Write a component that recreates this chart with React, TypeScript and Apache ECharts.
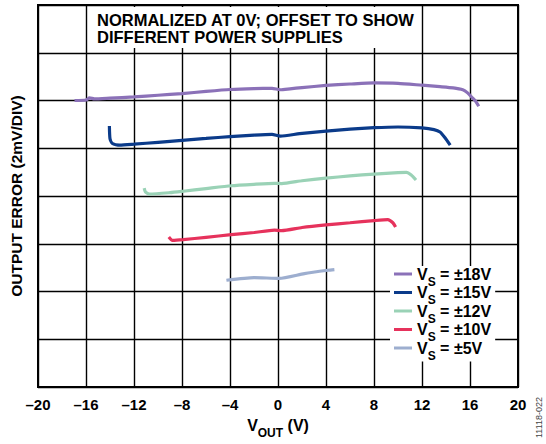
import { useEffect, useRef } from 'react';
import * as echarts from 'echarts';

// Supply voltages (legend labels) in legend order
const supplyNames: string[] = ['±18V', '±15V', '±12V', '±10V', '±5V'];
const supplyColors: string[] = ['#8B71B8', '#0B3B8A', '#9AD2B6', '#E6325C', '#9DAECF'];

// X axis ticks (V)
const xMin = -20;
const xMax = 20;
const xStep = 4;
// Y axis: 2 mV per division, 8 divisions
const yMin = 0;
const yMax = 16;
const yStep = 2;

// Curves: [VOUT (V), output error (mV, offset)]
const vs18: [number, number][] = [
  [-16.96, 12.0], [-16.0, 12.02], [-15.7, 12.11], [-15.3, 12.07], [-14, 12.1], [-12, 12.15], [-10, 12.22],
  [-8, 12.29], [-6, 12.38], [-4, 12.46], [-2, 12.5], [-0.5, 12.51], [0.2, 12.45], [1, 12.49], [2, 12.54],
  [4, 12.63], [6, 12.69], [8, 12.74], [10, 12.72], [12, 12.64], [13.5, 12.58], [14.6, 12.53], [15.4, 12.45],
  [15.8, 12.32], [16.2, 12.11], [16.5, 11.95], [16.73, 11.76],
];
const vs15: [number, number][] = [
  [-14.05, 10.93], [-14.0, 10.4], [-13.8, 10.2], [-13.2, 10.13], [-12, 10.17], [-10, 10.25], [-8, 10.33],
  [-6, 10.41], [-4, 10.49], [-2, 10.55], [-0.5, 10.58], [0.2, 10.51], [1.8, 10.61], [4, 10.72], [6, 10.8],
  [8, 10.86], [10, 10.89], [12, 10.85], [13, 10.78], [13.5, 10.68], [13.9, 10.45], [14.35, 10.13],
];
const vs12: [number, number][] = [
  [-11.15, 8.33], [-11.05, 8.17], [-10.7, 8.08], [-9, 8.14], [-7.9, 8.2], [-6, 8.31], [-3.9, 8.43],
  [-2, 8.49], [-0.3, 8.53], [0.3, 8.52], [2, 8.64], [4, 8.75], [6, 8.84], [8, 8.92], [10, 8.98],
  [10.7, 8.99], [11.1, 8.88], [11.5, 8.67],
];
const vs10: [number, number][] = [
  [-9.1, 6.28], [-8.8, 6.14], [-7.9, 6.17], [-6, 6.27], [-3.9, 6.38], [-2, 6.47], [-0.3, 6.57],
  [0.3, 6.55], [2, 6.68], [4, 6.79], [6, 6.88], [8, 6.97], [9.15, 7.01], [9.57, 6.88], [9.8, 6.7],
];
const vs5: [number, number][] = [
  [-4.3, 4.47], [-2, 4.58], [0.1, 4.55], [2.2, 4.75], [4.15, 4.89], [4.7, 4.92],
];
const seriesData = [vs18, vs15, vs12, vs10, vs5];

const FONT = '"Liberation Sans", Arial, Helvetica, sans-serif';

const subRich = {
  v: { fontSize: 16, fontWeight: 'bold', color: '#000', fontFamily: FONT, lineHeight: 27 },
  s: { fontSize: 12, fontWeight: 'bold', color: '#000', fontFamily: FONT, lineHeight: 6, verticalAlign: 'bottom' },
};

export default function App() {
  const ref = useRef<HTMLDivElement>(null);
  useEffect(() => {
    if (!ref.current) return;
    const chart = echarts.init(ref.current, undefined, { renderer: 'svg' });
    chart.setOption({
      animation: false,
      backgroundColor: '#fff',
      textStyle: { fontFamily: FONT },
      grid: {
        left: 38, top: 5, width: 480, height: 384,
        show: true, borderColor: '#000', borderWidth: 2, backgroundColor: 'transparent',
      },
      xAxis: {
        type: 'value', min: xMin, max: xMax, interval: xStep,
        axisLine: { show: false }, axisTick: { show: false },
        splitLine: { show: true, lineStyle: { color: '#000', width: 1.4 } },
        axisLabel: {
          margin: 10, color: '#000', fontWeight: 'bold', fontSize: 15, fontFamily: FONT,
          formatter: (v: number) => (v < 0 ? '\u2013' + Math.abs(v) : String(v)),
        },
        name: '{v|V}{s|OUT}{v| (V)}',
        nameLocation: 'middle', nameGap: 25,
        nameTextStyle: { rich: subRich },
      },
      yAxis: {
        type: 'value', min: yMin, max: yMax, interval: yStep,
        axisLine: { show: false }, axisTick: { show: false }, axisLabel: { show: false },
        splitLine: { show: true, lineStyle: { color: '#000', width: 1.4 } },
        name: 'OUTPUT ERROR (2mV/DIV)', nameLocation: 'middle', nameGap: 14,
        nameTextStyle: { fontSize: 15.5, fontWeight: 'bold', color: '#000', fontFamily: FONT },
      },
      legend: {
        orient: 'vertical', left: 390, top: 266,
        icon: 'rect', itemWidth: 18, itemHeight: 3, itemGap: -3,
        backgroundColor: '#fff', padding: [0, 4, 0, 4],
        data: supplyNames,
        formatter: (name: string) => `{v|V}{s|S}{v| = ${name}}`,
        textStyle: { rich: subRich },
      },
      graphic: [
        { type: 'rect', z: 10, shape: { x: 89, y: 7, width: 326, height: 41 }, style: { fill: '#fff' } },
        {
          type: 'text', z: 11, x: 97, y: 12,
          style: {
            text: 'NORMALIZED AT 0V; OFFSET TO SHOW\nDIFFERENT POWER SUPPLIES',
            fontSize: 16.5, fontWeight: 'bold', fontFamily: FONT, fill: '#000', lineHeight: 16.5,
            verticalAlign: 'top',
          },
        },
        {
          type: 'text', z: 11, x: 534, y: 438, rotation: Math.PI / 2,
          style: { text: '11118-022', fontSize: 9, fontFamily: FONT, fill: '#444', verticalAlign: 'top' },
        },
      ],
      series: supplyNames.map((name, i) => ({
        name, type: 'line', data: seriesData[i], showSymbol: false, smooth: 0.2,
        color: supplyColors[i],
        lineStyle: { color: supplyColors[i], width: 3.2 },
        z: 3,
      })),
    });
    return () => chart.dispose();
  }, []);
  return <div ref={ref} style={{ width: 546, height: 444, position: 'absolute', left: 0, top: 0 }} />;
}
